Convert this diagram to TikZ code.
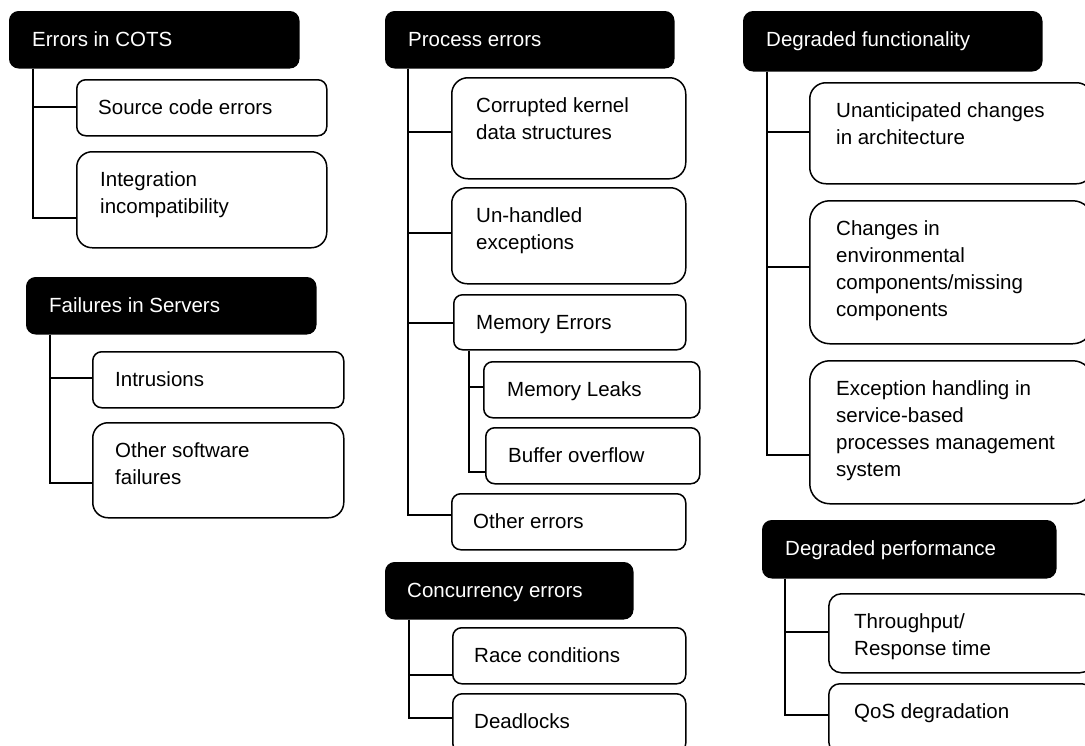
\documentclass[tikz,border=0pt]{standalone}
\usepackage{fontspec}
\setmainfont{Liberation Sans}
\newcommand\tf{\fontsize{20.5pt}{27pt}\selectfont}
% \mybox[text x-offset]{name}{x1}{y1}{x2}{y2}{style}{text}
\newcommand\mybox[8][24]{%
  \pgfmathsetmacro\myw{#5-#3}%
  \pgfmathsetmacro\myh{#6-#4}%
  \pgfmathsetmacro\myr{min(0.16*\myh,20)}%
  \node[#7, anchor=north west, inner sep=0pt, minimum width=\myw pt,
        minimum height=\myh pt, rounded corners=\myr pt] (#2) at (#3,#4) {};
  \node[#7text, anchor=base west, inner sep=0pt] (#2t)
        at ([xshift=#1pt,yshift=-35pt]#2.north west) {\parbox[t]{330pt}{\tf #8}};%
}
% \branch{parent}{spine x-offset}{child}{branch y-offset from child top}
\newcommand\branch[4]{%
  \draw[conn] ([xshift=#2pt]#1.south west) |- ([yshift=-#4pt]#3.north west);}
\begin{document}
\begin{tikzpicture}[x=1pt,y=-1pt,
  blk/.style={draw=black, fill=black, line width=1.5pt},
  wht/.style={draw=black, fill=white, line width=1.5pt},
  blktext/.style={text=white},
  whttext/.style={text=black},
  conn/.style={draw=black, line width=1.5pt}]
\useasboundingbox (0,0) rectangle (1085,745);
\fill[white] (0,0) rectangle (1085,745);

% ---------- left column ----------
\mybox[23]{cots}{9}{11}{298}{67}{blk}{Errors in COTS}
\mybox[22]{src}{76}{79}{326}{135}{wht}{Source code errors}
\mybox{integ}{76}{151}{326}{247}{wht}{Integration\\incompatibility}
\branch{cots}{24}{src}{28}
\branch{cots}{24}{integ}{67}

\mybox[23]{srv}{26}{277}{315}{333}{blk}{Failures in Servers}
\mybox[23]{intr}{92}{351}{343}{407}{wht}{Intrusions}
\mybox[23]{oth}{92}{422}{343}{517}{wht}{Other software\\failures}
\branch{srv}{24}{intr}{27}
\branch{srv}{24}{oth}{61}

% ---------- middle column ----------
\mybox[23]{proc}{385}{11}{673}{67}{blk}{Process errors}
\mybox[25]{kern}{451}{77}{685}{178}{wht}{Corrupted kernel\\data structures}
\mybox[25]{unh}{451}{187}{685}{283}{wht}{Un-handled\\exceptions}
\mybox[23]{mem}{453}{294}{685}{349}{wht}{Memory Errors}
\mybox{leak}{483}{361}{699}{417}{wht}{Memory Leaks}
\mybox[23]{buf}{485}{427}{699}{483}{wht}{Buffer overflow}
\mybox[22]{othe}{451}{493}{685}{549}{wht}{Other errors}
\branch{proc}{23}{kern}{55}
\branch{proc}{23}{unh}{46}
\branch{proc}{23}{mem}{29}
\branch{proc}{23}{othe}{22}
\branch{mem}{16}{leak}{26}
\branch{mem}{16}{buf}{45}

\mybox[22]{conc}{385}{562}{632}{618}{blk}{Concurrency errors}
\mybox[22]{race}{452}{627}{685}{683}{wht}{Race conditions}
\mybox[22]{dead}{452}{693}{685}{752}{wht}{Deadlocks}
\branch{conc}{24}{race}{48}
\branch{conc}{24}{dead}{25}

% ---------- right column ----------
\mybox[23]{dfun}{743}{11}{1041}{70}{blk}{Degraded functionality}
\mybox[27]{unant}{809}{82}{1092}{183}{wht}{Unanticipated changes\\in architecture}
\mybox[27]{chg}{809}{200}{1092}{343}{wht}{Changes in\\environmental\\components/missing\\components}
\mybox[27]{exc}{809}{360}{1092}{503}{wht}{Exception handling in\\service-based\\processes management\\system}
\branch{dfun}{24}{unant}{50}
\branch{dfun}{24}{chg}{67}
\branch{dfun}{24}{exc}{95}

\mybox[23]{dperf}{762}{520}{1055}{577}{blk}{Degraded performance}
\mybox[26]{thr}{828}{593}{1092}{672}{wht}{Throughput/\\Response time}
\mybox[26]{qos}{828}{683}{1092}{752}{wht}{QoS degradation}
\branch{dperf}{23}{thr}{39}
\branch{dperf}{23}{qos}{32}
\end{tikzpicture}
\end{document}
